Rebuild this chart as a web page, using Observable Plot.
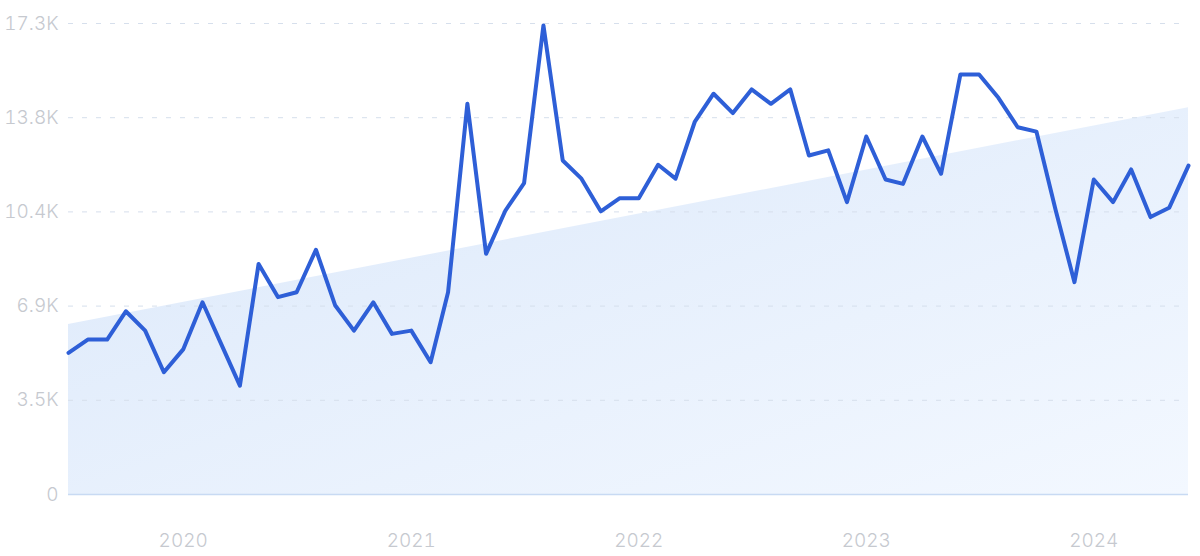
<!DOCTYPE html>
<html>
<head>
<meta charset="utf-8">
<script src="https://cdn.jsdelivr.net/npm/d3@7"></script>
<script src="https://cdn.jsdelivr.net/npm/@observablehq/plot@0.6"></script>
<style>
  html, body { margin: 0; padding: 0; background: #ffffff; }
  #chart { width: 1200px; height: 556px; }
</style>
</head>
<body>
<div id="chart"></div>
<script>
// ---- Data ----
const months = [
  "2019-07","2019-08","2019-09","2019-10","2019-11","2019-12",
  "2020-01","2020-02","2020-03","2020-04","2020-05","2020-06",
  "2020-07","2020-08","2020-09","2020-10","2020-11","2020-12",
  "2021-01","2021-02","2021-03","2021-04","2021-05","2021-06",
  "2021-07","2021-08","2021-09","2021-10","2021-11","2021-12",
  "2022-01","2022-02","2022-03","2022-04","2022-05","2022-06",
  "2022-07","2022-08","2022-09","2022-10","2022-11","2022-12",
  "2023-01","2023-02","2023-03","2023-04","2023-05","2023-06",
  "2023-07","2023-08","2023-09","2023-10","2023-11","2023-12",
  "2024-01","2024-02","2024-03","2024-04","2024-05","2024-06"
];
const values = [
  5200, 5690, 5690, 6730, 6020, 4490,
  5330, 7060, 5580, 4000, 8470, 7250,
  7430, 8990, 6940, 6020, 7060, 5900,
  6020, 4860, 7430, 14350, 8840, 10430,
  11440, 17230, 12270, 11600, 10400, 10880,
  10880, 12110, 11600, 13700, 14720, 14010,
  14880, 14350, 14880, 12450, 12640, 10740,
  13150, 11570, 11410, 13150, 11780, 15430,
  15430, 14570, 13490, 13330, 10430, 7800,
  11570, 10740, 11940, 10190, 10530, 12080
];
// trend band (start / end values of the shaded trend)
const trendMonths = ["2019-07", "2024-06"];
const trendValues = [6240, 14210];

const yTickValues = [0, 3460, 6920, 10380, 13840, 17300];
const yTickLabels = ["0", "3.5K", "6.9K", "10.4K", "13.8K", "17.3K"];
const xTickYears = ["2020", "2021", "2022", "2023", "2024"];

// ---- Build tables ----
const parseMonth = d3.utcParse("%Y-%m");
const series = months.map((m, i) => ({date: parseMonth(m), value: values[i]}));
const trend = trendMonths.map((m, i) => ({date: parseMonth(m), value: trendValues[i]}));
const xTicks = xTickYears.map(y => d3.utcParse("%Y")(y));
const labelOf = new Map(yTickValues.map((v, i) => [v, yTickLabels[i]]));

const chart = Plot.plot({
  width: 1200,
  height: 556,
  marginTop: 23,
  marginBottom: 62,
  marginLeft: 68,
  marginRight: 12,
  style: {
    fontFamily: "Inter, 'Noto Sans', sans-serif",
    fontSize: "19px",
    fontWeight: 300,
    color: "#c6c9cf",
    background: "#ffffff"
  },
  x: {type: "utc", domain: [series[0].date, series[series.length - 1].date]},
  y: {domain: [0, 17300]},
  marks: [
    Plot.areaY(trend, {x: "date", y: "value", fill: "url(#trendGrad)"}),
    Plot.gridY(yTickValues.slice(1), {stroke: "#d6dfec", strokeOpacity: 1, strokeWidth: 1, strokeDasharray: "5,9"}),
    Plot.ruleY([0], {stroke: "#c8daf3", strokeWidth: 1.5}),
    Plot.axisY({ticks: yTickValues, tickFormat: d => labelOf.get(d), tickSize: 0, tickPadding: 10, label: null}),
    Plot.axisX({ticks: xTicks, tickFormat: d3.utcFormat("%Y"), tickSize: 0, tickPadding: 39, label: null}),
    Plot.lineY(series, {x: "date", y: "value", stroke: "#2e5fd7", strokeWidth: 4, strokeLinejoin: "round", strokeLinecap: "round"})
  ]
});

// gradient definition for the trend area
const ns = "http://www.w3.org/2000/svg";
const defs = document.createElementNS(ns, "defs");
const grad = document.createElementNS(ns, "linearGradient");
grad.setAttribute("id", "trendGrad");
grad.setAttribute("x1", "0"); grad.setAttribute("y1", "0");
grad.setAttribute("x2", "1"); grad.setAttribute("y2", "1");
[["0%", "#dbe8fa"], ["100%", "#f3f8ff"]].forEach(([o, c]) => {
  const s = document.createElementNS(ns, "stop");
  s.setAttribute("offset", o);
  s.setAttribute("stop-color", c);
  grad.appendChild(s);
});
defs.appendChild(grad);
chart.insertBefore(defs, chart.firstChild);

document.getElementById("chart").appendChild(chart);
</script>
</body>
</html>
